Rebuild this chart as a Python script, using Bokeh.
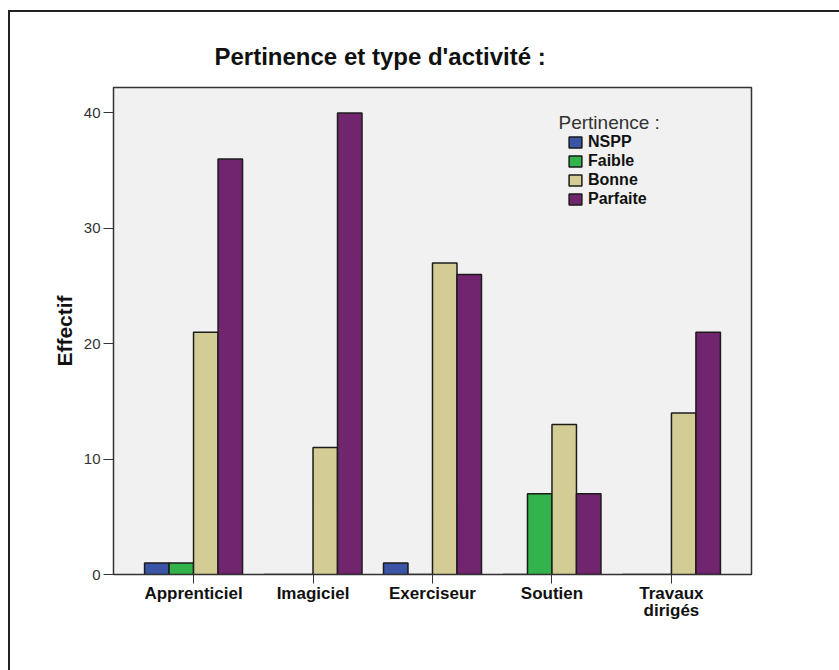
from bokeh.plotting import figure
from bokeh.models import (ColumnDataSource, FactorRange, Range1d, FixedTicker, Label)
from bokeh.layouts import column
from bokeh.transform import dodge
from bokeh.embed import file_html
from bokeh.resources import INLINE

# ---- data ----
categories = ["Apprenticiel", "Imagiciel", "Exerciseur", "Soutien", "Travaux\ndirigés"]
series_names = ["NSPP", "Faible", "Bonne", "Parfaite"]
nspp = [1, 0, 1, 0, 0]
faible = [1, 0, 0, 7, 0]
bonne = [21, 11, 27, 13, 14]
parfaite = [36, 40, 26, 7, 21]
y_ticks = [0, 10, 20, 30, 40]

colors = ["#3a55a6", "#33b34c", "#d3cd95", "#71256f"]
FONT = "Liberation Sans"

source = ColumnDataSource(dict(cat=categories, NSPP=nspp, Faible=faible,
                               Bonne=bonne, Parfaite=parfaite))

p = figure(x_range=FactorRange(factors=categories, range_padding=0.17,
                               range_padding_units="absolute"),
           y_range=Range1d(0, 42.2),
           frame_width=638, frame_height=487,
           min_border_left=103, min_border_right=90,
           min_border_top=75, min_border_bottom=98,
           output_backend="svg", toolbar_location=None,
           background_fill_color="#f0f1f0", border_fill_color="white")

bw = 0.205
offsets = [-1.5 * bw, -0.5 * bw, 0.5 * bw, 1.5 * bw]
for name, col, off in zip(series_names, colors, offsets):
    p.vbar(x=dodge("cat", off, range=p.x_range), top=name, width=bw,
           source=source, fill_color=col, line_color="#1c1c1c",
           line_width=1.5, legend_label=name)

p.grid.visible = False
p.outline_line_color = "#333333"
p.outline_line_width = 1.5

# title
p.title.text = "Pertinence et type d'activité :"
p.title.align = "left"
p.title.text_font = FONT
p.title.text_font_size = "24px"
p.title.text_font_style = "bold"
p.title.text_color = "#111111"
p.title.offset = 101
p.title.standoff = 36

# y axis
ya = p.yaxis[0]
ya.ticker = FixedTicker(ticks=y_ticks)
ya.minor_tick_line_color = None
ya.major_tick_in = 0
ya.major_tick_out = 10
ya.major_label_standoff = 3
ya.axis_line_color = "#333333"
ya.major_tick_line_color = "#333333"
ya.major_label_text_font = FONT
ya.major_label_text_font_size = "15px"
ya.major_label_text_color = "#333333"
ya.axis_label = "Effectif"
ya.axis_label_text_font = FONT
ya.axis_label_text_font_size = "21px"
ya.axis_label_text_font_style = "bold"
ya.axis_label_text_color = "#111111"
ya.axis_label_standoff = 5

# x axis
xa = p.xaxis[0]
xa.major_tick_in = 0
xa.major_tick_out = 9
xa.minor_tick_line_color = None
xa.axis_line_color = "#333333"
xa.major_tick_line_color = "#333333"
xa.major_label_standoff = 0
xa.major_label_text_font = FONT
xa.major_label_text_font_size = "17px"
xa.major_label_text_font_style = "bold"
xa.major_label_text_color = "#111111"
xa.major_label_text_line_height = 0.9

# legend
lg = p.legend[0]
lg.location = (454, 366)
lg.padding = 0
lg.margin = 0
lg.border_line_color = None
lg.background_fill_alpha = 0
lg.glyph_width = 16
lg.glyph_height = 14
lg.label_height = 14
lg.spacing = 1
lg.label_standoff = 5
lg.label_text_font = FONT
lg.label_text_font_size = "16px"
lg.label_text_font_style = "bold"
lg.label_text_color = "#111111"

p.add_layout(Label(x=445, y=452, x_units="screen", y_units="screen",
                   text="Pertinence :", text_font=FONT, text_font_size="19px",
                   text_color="#333333", text_baseline="alphabetic"))

layout = column(p, styles={"margin-left": "8px", "margin-top": "10px",
                           "box-sizing": "content-box",
                           "overflow": "visible",
                           "border-style": "solid",
                           "border-color": "#222222",
                           "border-width": "2px 0px 0px 2px"})

open("out.html", "w").write(file_html(layout, INLINE))
